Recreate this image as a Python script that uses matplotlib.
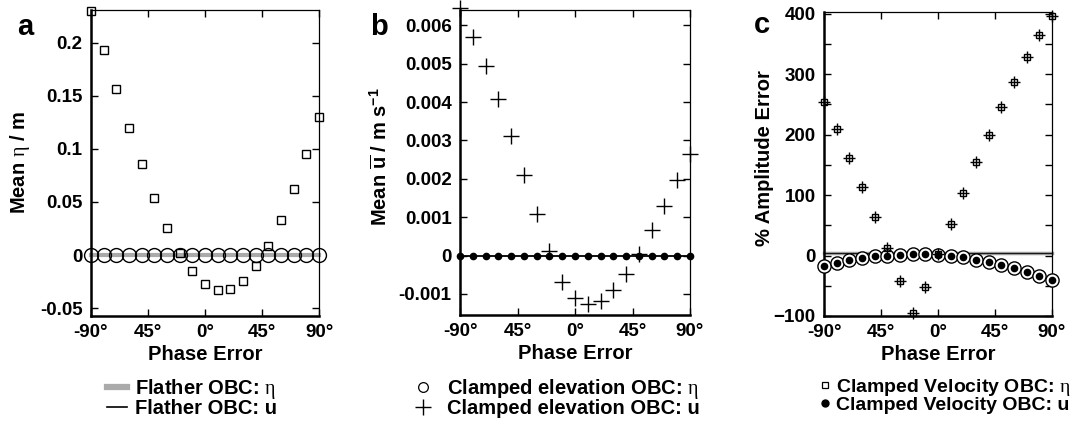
import matplotlib
matplotlib.use('Agg')
import matplotlib.pyplot as plt
from matplotlib.lines import Line2D
from matplotlib.ticker import MultipleLocator

plt.rcParams['font.family'] = ['Liberation Sans', 'DejaVu Sans']
plt.rcParams['font.weight'] = 'bold'
plt.rcParams['mathtext.fontset'] = 'custom'
plt.rcParams['mathtext.rm'] = 'Liberation Serif:weight=normal'
plt.rcParams['mathtext.bf'] = 'Liberation Sans:weight=bold'
plt.rcParams['mathtext.it'] = 'Liberation Serif:italic:weight=normal'

# phase error of the boundary forcing (degrees)
phase = [-90, -80, -70, -60, -50, -40, -30, -20, -10, 0,
         10, 20, 30, 40, 50, 60, 70, 80, 90]

# panel a: mean elevation (m)
flather_eta_mean = [0, 0, 0, 0, 0, 0, 0, 0, 0, 0, 0, 0, 0, 0, 0, 0, 0, 0, 0]
clamped_elev_eta_mean = [0, 0, 0, 0, 0, 0, 0, 0, 0, 0, 0, 0, 0, 0, 0, 0, 0, 0, 0]
clamped_vel_eta_mean = [0.2305, 0.1937, 0.1566, 0.120, 0.0855, 0.0535, 0.0258,
                        0.002, -0.0154, -0.027, -0.0327, -0.032, -0.0242,
                        -0.0107, 0.0088, 0.0333, 0.0623, 0.095, 0.130]

# panel b: mean depth-averaged velocity (m/s)
flather_u_mean = [0, 0, 0, 0, 0, 0, 0, 0, 0, 0, 0, 0, 0, 0, 0, 0, 0, 0, 0]
clamped_vel_u_mean = [0, 0, 0, 0, 0, 0, 0, 0, 0, 0, 0, 0, 0, 0, 0, 0, 0, 0, 0]
clamped_elev_u_mean = [0.00645, 0.00569, 0.00493, 0.00407, 0.00311, 0.00209,
                       0.00108, 0.00012, -0.00069, -0.0011, -0.00127, -0.00118,
                       -0.0009, -0.00047, 0.00005, 0.00066, 0.00129, 0.00198,
                       0.00264]

# panel c: % amplitude error
flather_amp = [4, 4, 4, 4, 4, 4, 4, 4, 4, 4, 4, 4, 4, 4, 4, 4, 4, 4, 4]
amp_large = [254, 209, 162, 113, 63, 12, -42, -95, -52, 2,
             53, 104, 154, 200, 246, 288, 328, 365, 397]
amp_small = [-17, -12, -8, -4, -1, 0, 1, 2, 2, 1,
             -1, -3, -7, -11, -16, -21, -27, -34, -41]
clamped_vel_eta_amp = amp_large
clamped_elev_u_amp = amp_large
clamped_elev_eta_amp = amp_small
clamped_vel_u_amp = amp_small

xticks = [-90, -45, 0, 45, 90]
xticklabels = ['-90°', '45°', '0°', '45°', '90°']

W, H = 1078, 425
fig = plt.figure(figsize=(W / 100, H / 100), dpi=100)


def box(l, t, r, b):
    return [l / W, 1 - b / H, (r - l) / W, (b - t) / H]


def style(ax):
    ax.set_xlim(-90, 90)
    ax.set_xticks(xticks)
    ax.set_xticklabels(xticklabels)
    ax.tick_params(direction='in', top=True, right=True, length=5, width=1,
                   labelsize=13.5, pad=6)
    ax.tick_params(which='minor', direction='in', right=True, left=True, length=5, width=1)
    for s in ['left', 'bottom']:
        ax.spines[s].set_linewidth(1.8)
    for s in ['top', 'right']:
        ax.spines[s].set_linewidth(0.9)
    ax.set_xlabel('Phase Error', fontsize=14.5, fontweight='bold')
    ax.xaxis.set_label_coords(0.5, -0.125)
    ax.xaxis.label.set_va('center')


def ylab(ax, text, x, y):
    ax.set_ylabel(text, fontsize=14.5, fontweight='bold')
    ax.yaxis.set_label_coords(x, y)
    ax.yaxis.label.set_va('center')


ax1 = fig.add_axes(box(91, 10, 319, 316))
ax1.plot(phase, flather_eta_mean, color='#aaaaaa', lw=3, zorder=2, clip_on=False)
ax1.plot(phase, clamped_elev_eta_mean, 'o', ms=10, mfc='none', mec='k', mew=1,
         zorder=3, clip_on=False)
ax1.plot(phase, clamped_vel_eta_mean, 's', ms=6, mfc='none', mec='k', mew=1,
         zorder=4, clip_on=False)
ax1.set_ylim(-0.0575, 0.231)
ax1.set_yticks([-0.05, 0, 0.05, 0.1, 0.15, 0.2])
ax1.set_yticklabels(['-0.05', '0', '0.05', '0.1', '0.15', '0.2'])
style(ax1)
ylab(ax1, r'Mean $\mathrm{\eta}$ / m', -0.311, 0.5)

ax2 = fig.add_axes(box(460, 10, 690, 315))
ax2.plot(phase, flather_u_mean, color='k', lw=1.3, zorder=2, clip_on=False)
ax2.plot(phase, clamped_vel_u_mean, 'o', ms=4.5, color='k', zorder=3, clip_on=False)
ax2.plot(phase, clamped_elev_u_mean, '+', ms=11, mew=1, color='k', zorder=4,
         clip_on=False)
ax2.set_ylim(-0.00155, 0.0064)
ax2.set_yticks([-0.001, 0, 0.001, 0.002, 0.003, 0.004, 0.005, 0.006])
ax2.set_yticklabels(['-0.001', '0', '0.001', '0.002', '0.003', '0.004',
                     '0.005', '0.006'])
style(ax2)
ylab(ax2, r'Mean $\mathbf{\overline{u}}$ / m s$^{\mathbf{-1}}$', -0.348, 0.52)

ax3 = fig.add_axes(box(824, 12, 1052, 316))
ax3.plot(phase, flather_amp, color='#999999', lw=2.5, zorder=2, clip_on=False)
ax3.plot(phase, flather_amp, color='k', lw=0.6, zorder=2, clip_on=False)
ax3.plot(phase, clamped_elev_eta_amp, 'o', ms=9.5, mfc='white', mec='k', mew=1,
         zorder=3, clip_on=False)
ax3.plot(phase, clamped_vel_u_amp, 'o', ms=4.5, color='k', zorder=4, clip_on=False)
ax3.plot(phase, clamped_vel_eta_amp, 's', ms=4.5, mfc='none', mec='k', mew=1,
         zorder=5, clip_on=False)
ax3.plot(phase, clamped_elev_u_amp, '+', ms=8, mew=1, color='k', zorder=5,
         clip_on=False)
ax3.set_ylim(-100, 403)
ax3.set_yticks([-100, 0, 100, 200, 300, 400])
ax3.yaxis.set_minor_locator(MultipleLocator(50))
style(ax3)
ylab(ax3, '% Amplitude Error', -0.259, 0.52)

for x, y, s in [(25, 27, 'a'), (379, 27, 'b'), (762, 25, 'c')]:
    fig.text(x / W, 1 - y / H, s, fontsize=21, fontweight='bold',
             ha='center', va='center')

fig.legend([Line2D([], [], color='#aaaaaa', lw=4.5),
            Line2D([], [], color='k', lw=1.2)],
           [r'Flather OBC: $\mathrm{\eta}$', 'Flather OBC: u'],
           loc='upper left', bbox_to_anchor=(107 / W, 1 - 377 / H),
           frameon=False, prop={'size': 14.5, 'weight': 'bold'},
           borderpad=0, borderaxespad=0,
           handlelength=1.0, handletextpad=0.4, labelspacing=-0.1)
fig.legend([Line2D([], [], ls='none', marker='o', ms=7, mfc='none', mec='k', mew=0.9),
            Line2D([], [], ls='none', marker='+', ms=11, mew=1, color='k')],
           [r'Clamped elevation OBC: $\mathrm{\eta}$', 'Clamped elevation OBC: u'],
           loc='upper left', bbox_to_anchor=(413 / W, 1 - 377 / H),
           frameon=False, prop={'size': 14.5, 'weight': 'bold'},
           borderpad=0, borderaxespad=0,
           handlelength=1.0, handletextpad=0.7, labelspacing=-0.1)
fig.legend([Line2D([], [], ls='none', marker='s', ms=5, mfc='none', mec='k', mew=0.9),
            Line2D([], [], ls='none', marker='o', ms=5, color='k')],
           [r'Clamped Velocity OBC: $\mathrm{\eta}$', 'Clamped Velocity OBC: u'],
           loc='upper left', bbox_to_anchor=(819 / W, 1 - 377 / H),
           frameon=False, prop={'size': 14, 'weight': 'bold'},
           borderpad=0, borderaxespad=0,
           handlelength=0.6, handletextpad=0.25, labelspacing=-0.1)

fig.savefig('out.png', dpi=100)
